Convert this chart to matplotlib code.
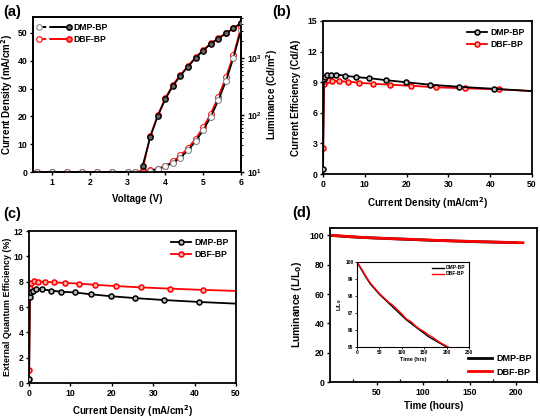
import matplotlib
matplotlib.use("Agg")
import matplotlib.pyplot as plt
from matplotlib.lines import Line2D
from matplotlib.legend_handler import HandlerBase
import numpy as np

plt.rcParams['font.family'] = ['Liberation Sans', 'DejaVu Sans']
plt.rcParams['font.weight'] = 'bold'
plt.rcParams['axes.labelweight'] = 'bold'
plt.rcParams['axes.linewidth'] = 1.3
plt.rcParams['mathtext.default'] = 'bf'

RED = '#ff0000'
BLK = '#000000'

# ---------------- data ----------------
# (a) J-V-L
volt = [0.6, 1.0, 1.4, 1.8, 2.2, 2.6, 3.0, 3.2, 3.4, 3.6, 3.8, 4.0, 4.2, 4.4, 4.6, 4.8, 5.0, 5.2, 5.4, 5.6, 5.8, 6.0]
j_dmp = [0, 0, 0, 0, 0, 0, 0.02, 0.05, 0.2, 0.5, 1.0, 2.0, 3.3, 5.2, 7.8, 11.0, 15.0, 19.8, 25.7, 32.6, 41.0, 51.0]
j_dbf = [0, 0, 0, 0, 0, 0, 0.02, 0.06, 0.25, 0.6, 1.2, 2.2, 3.8, 6.0, 8.6, 12.0, 16.0, 21.0, 27.0, 34.0, 42.0, 52.0]
volt_lum = [3.4, 3.6, 3.8, 4.0, 4.2, 4.4, 4.6, 4.8, 5.0, 5.2, 5.4, 5.6, 5.8, 6.0]
lum_dmp = [13, 41, 96, 190, 325, 490, 710, 1000, 1350, 1780, 2200, 2700, 3300, 4100]
lum_dbf = [11, 43, 100, 200, 340, 510, 730, 1030, 1380, 1800, 2230, 2720, 3320, 4150]

# (b) current efficiency / (c) EQE vs current density
jb_dmp = [0.02, 0.2, 0.5, 1.0, 1.8, 3.2, 5.2, 7.8, 11.0, 15.0, 19.8, 25.7, 32.6, 41.0, 51.0]
ce_dmp = [0.5, 9.3, 9.55, 9.7, 9.75, 9.75, 9.65, 9.5, 9.4, 9.2, 9.0, 8.75, 8.55, 8.35, 8.1]
eqe_dmp = [0.3, 6.8, 7.2, 7.3, 7.4, 7.4, 7.3, 7.2, 7.15, 7.0, 6.85, 6.7, 6.55, 6.4, 6.25]
jb_dbf = [0.03, 0.25, 0.6, 1.2, 2.2, 3.8, 6.0, 8.6, 12.0, 16.0, 21.0, 27.0, 34.0, 42.0, 52.0]
ce_dbf = [2.5, 8.8, 9.1, 9.2, 9.15, 9.1, 9.05, 8.95, 8.85, 8.75, 8.65, 8.5, 8.4, 8.3, 8.1]
eqe_dbf = [1.0, 7.5, 7.9, 8.05, 8.0, 8.0, 7.95, 7.9, 7.85, 7.75, 7.65, 7.55, 7.45, 7.35, 7.25]

# (d) lifetime
t_dmp = [0, 10, 20, 30, 40, 50, 60, 70, 80, 90, 100, 110, 120, 130, 140, 150, 160, 170, 180, 190, 200]
l_dmp = [100.0, 99.55, 99.1, 98.7, 98.4, 98.1, 97.85, 97.6, 97.35, 97.1, 96.85, 96.6, 96.4, 96.2, 96.0, 95.8, 95.6, 95.45, 95.3, 95.15, 95.0]
t_dbf = [0, 10, 20, 30, 40, 50, 60, 70, 80, 90, 100, 110, 120, 130, 140, 150, 160, 170, 180, 190, 200, 207]
l_dbf = [100.0, 99.6, 99.15, 98.75, 98.45, 98.15, 97.9, 97.65, 97.45, 97.2, 96.95, 96.65, 96.5, 96.25, 96.05, 95.9, 95.7, 95.55, 95.35, 95.2, 95.05, 94.95]

names = ['DMP-BP', 'DBF-BP']

# ---------------- figure ----------------
W, H = 540, 419
fig = plt.figure(figsize=(W / 100, H / 100), dpi=100)


def ax_px(l, t, r, b):
    return fig.add_axes([l / W, (H - b) / H, (r - l) / W, (b - t) / H])


TL = 6.2
LL = 7


def style(ax):
    ax.tick_params(labelsize=TL, width=1.0, length=2.5, direction='out', pad=1.5)
    for lab in ax.get_xticklabels() + ax.get_yticklabels():
        lab.set_fontweight('bold')


class DualHandler(HandlerBase):
    def create_artists(self, legend, orig_handle, xdescent, ydescent, width, height, fontsize, trans):
        c = orig_handle.get_color()
        y = 0.5 * height - ydescent
        x0, x1 = -xdescent, width - xdescent
        ln1 = Line2D([x0, 0.5 * (x0 + x1)], [y, y], color=c, ls='--', lw=1.4)
        ln2 = Line2D([0.5 * (x0 + x1), x1], [y, y], color=c, ls='-', lw=1.4)
        m1 = Line2D([x0], [y], marker='o', ms=4, mfc='white', mec='#888888' if c == BLK else c, mew=0.8, ls='none')
        m2 = Line2D([x1], [y], marker='o', ms=3.8, mfc='#666666' if c == BLK else '#ff6666', mec=c, mew=1.1, ls='none')
        arts = [ln1, ln2, m1, m2]
        for a in arts:
            a.set_transform(trans)
        return arts


# (a)
axa = ax_px(33, 17, 241, 172)
axa2 = axa.twinx()
axa2.plot(volt_lum, lum_dbf, color=RED, lw=1.2, marker='o', ms=3.8, mfc='#ff6666', mec=RED, mew=1.0, zorder=2)
axa2.plot(volt_lum, lum_dmp, color=BLK, lw=1.2, marker='o', ms=3.8, mfc='#666666', mec=BLK, mew=1.0, zorder=3)
axa.plot(volt, j_dbf, color=RED, lw=1.2, marker='o', ms=4.2, mfc='white', mec=RED, mew=0.7, zorder=2)
axa.plot(volt, j_dmp, color=BLK, lw=1.2, marker='o', ms=4.2, mfc='white', mec='#777777', mew=0.7, zorder=3)
axa.set_xlim(0.5, 6)
axa.set_ylim(0, 55.7)
axa.set_xticks([1, 2, 3, 4, 5, 6])
axa.set_yticks([0, 10, 20, 30, 40, 50])
axa2.set_yscale('log')
axa2.set_ylim(10, 10 ** 3.72)
axa.set_xlabel('Voltage (V)', fontsize=LL, labelpad=5)
axa.set_ylabel('Current Density (mA/cm$^2$)', fontsize=LL, labelpad=2)
axa2.set_ylabel('Luminance (Cd/m$^2$)', fontsize=LL, labelpad=2)
style(axa)
style(axa2)
axa2.tick_params(which='minor', length=1.6, width=0.7, direction='out')
ha = [Line2D([], [], color=BLK), Line2D([], [], color=RED)]
axa.legend(ha, names, handler_map={Line2D: DualHandler()}, loc='upper left', frameon=False,
           fontsize=6.2, handlelength=3.4, borderaxespad=0.35, labelspacing=0.35, handletextpad=0.5)

# (b)
axb = ax_px(323, 21, 532, 174)
axb.plot(jb_dbf, ce_dbf, color=RED, lw=1.3, marker='o', ms=3.6, mfc='#ffaaaa', mec=RED, mew=1.1, label=names[1], zorder=2)
axb.plot(jb_dmp, ce_dmp, color=BLK, lw=1.3, marker='o', ms=3.6, mfc='#bbbbbb', mec=BLK, mew=1.1, label=names[0], zorder=3)
axb.set_xlim(0, 50)
axb.set_ylim(0, 15)
axb.set_xticks([0, 10, 20, 30, 40, 50])
axb.set_yticks([0, 3, 6, 9, 12, 15])
axb.set_xlabel('Current Density (mA/cm$^2$)', fontsize=LL, labelpad=5)
axb.set_ylabel('Current Efficiency (Cd/A)', fontsize=LL, labelpad=5)
style(axb)
h, l = axb.get_legend_handles_labels()
axb.legend(h[::-1], l[::-1], loc='upper right', frameon=False, fontsize=6.2, handlelength=2.4,
           borderaxespad=0.4, labelspacing=0.35, handletextpad=0.4)

# (c)
axc = ax_px(29, 231, 236, 383)
axc.plot(jb_dbf, eqe_dbf, color=RED, lw=1.3, marker='o', ms=3.6, mfc='#ffaaaa', mec=RED, mew=1.1, label=names[1], zorder=2)
axc.plot(jb_dmp, eqe_dmp, color=BLK, lw=1.3, marker='o', ms=3.6, mfc='#bbbbbb', mec=BLK, mew=1.1, label=names[0], zorder=3)
axc.set_xlim(0, 50)
axc.set_ylim(0, 12)
axc.set_xticks([0, 10, 20, 30, 40, 50])
axc.set_yticks([0, 2, 4, 6, 8, 10, 12])
axc.set_xlabel('Current Density (mA/cm$^2$)', fontsize=LL, labelpad=4)
axc.set_ylabel('External Quantum Efficiency (%)', fontsize=6.4, labelpad=1)
style(axc)
h, l = axc.get_legend_handles_labels()
axc.legend(h[::-1], l[::-1], loc='upper right', frameon=False, fontsize=6.2, handlelength=2.4,
           borderaxespad=0.4, labelspacing=0.35, handletextpad=0.4)

# (d)
axd = ax_px(330, 228, 537, 382)
axd.plot(t_dmp, l_dmp, color=BLK, lw=2.0, label=names[0])
axd.plot(t_dbf, l_dbf, color=RED, lw=2.0, label=names[1])
axd.set_xlim(0, 222)
axd.set_ylim(0, 105)
axd.set_xticks([50, 100, 150, 200])
axd.set_xticks([25, 75, 125, 175], minor=True)
axd.set_yticks([0, 20, 40, 60, 80, 100])
axd.set_xlabel('Time (hours)', fontsize=LL, labelpad=3)
axd.set_ylabel('Luminance (L/L$_0$)', fontsize=LL + 0.5, labelpad=4)
style(axd)
axd.tick_params(which='minor', direction='in', length=2, width=0.9)
axd.legend(loc='lower right', frameon=False, fontsize=6.5, handlelength=2.6,
           borderaxespad=0.2, labelspacing=0.5, handletextpad=0.5)

# inset
axi = ax_px(357, 262, 469, 347)
axi.plot(t_dmp, l_dmp, color=BLK, lw=1.0, label=names[0])
axi.plot(t_dbf, l_dbf, color=RED, lw=1.0, label=names[1])
axi.set_xlim(0, 250)
axi.set_ylim(95, 100)
axi.set_xticks([0, 50, 100, 150, 200, 250])
axi.set_yticks([95, 96, 97, 98, 99, 100])
axi.set_xlabel('Time (hrs)', fontsize=4, labelpad=1)
axi.set_ylabel('L/L$_0$', fontsize=4, labelpad=1)
axi.tick_params(labelsize=3.5, width=0.6, length=1.5, pad=1)
for sp in axi.spines.values():
    sp.set_linewidth(0.8)
axi.legend(loc='upper right', frameon=False, fontsize=3.5, handlelength=2.5,
           borderaxespad=0.3, labelspacing=0.2, handletextpad=0.4)

# panel letters
for txt, x, y in [('(a)', 3, 12), ('(b)', 272, 12), ('(c)', 3, 214), ('(d)', 292, 213)]:
    fig.text(x / W, 1 - y / H, txt, fontsize=10.5, fontweight='bold', va='center', ha='left')

fig.savefig('out.png', dpi=100)
